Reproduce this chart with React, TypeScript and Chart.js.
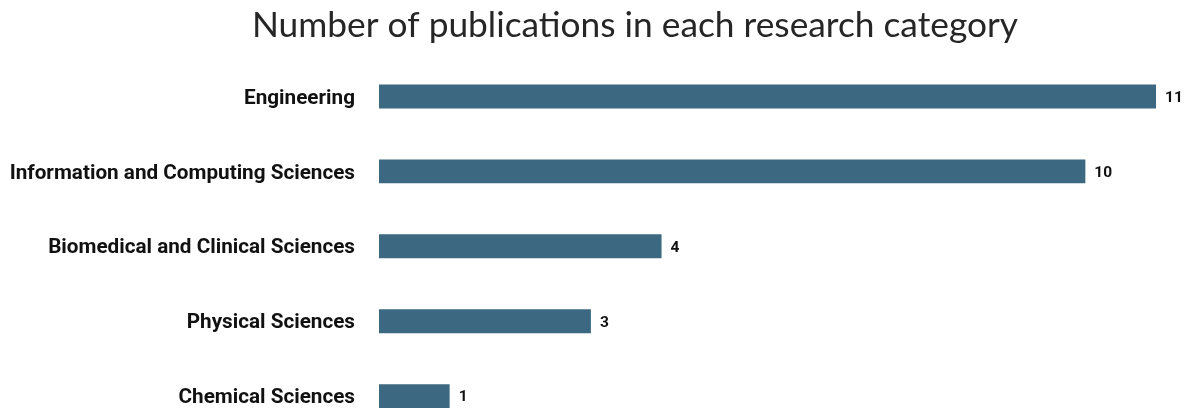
import React, { useEffect, useRef } from "react";
import { Chart, registerables } from "chart.js";

Chart.register(...registerables);

const categories = [
  "Engineering",
  "Information and Computing Sciences",
  "Biomedical and Clinical Sciences",
  "Physical Sciences",
  "Chemical Sciences",
];
const publications = [11, 10, 4, 3, 1];
const titleText = "Number of publications in each research category";

const titlePlugin = {
  id: "customTitle",
  afterDraw(chart: any) {
    const ctx = chart.ctx;
    ctx.save();
    ctx.font = "35.3px Lato";
    ctx.fillStyle = "#262626";
    ctx.textAlign = "center";
    ctx.textBaseline = "alphabetic";
    ctx.fillText(titleText, 635, 37);
    ctx.restore();
  },
};

const valueLabels = {
  id: "valueLabels",
  afterDatasetsDraw(chart: any) {
    const ctx = chart.ctx;
    const meta = chart.getDatasetMeta(0);
    ctx.save();
    ctx.font = "bold 15.5px Roboto";
    ctx.fillStyle = "#111";
    ctx.textAlign = "left";
    ctx.textBaseline = "middle";
    meta.data.forEach((bar: any, i: number) => {
      ctx.fillText(String(publications[i]), bar.x + 9, bar.y + 1.5);
    });
    ctx.restore();
  },
};

export default function App() {
  const ref = useRef<HTMLCanvasElement>(null);
  useEffect(() => {
    if (!ref.current) return;
    const chart = new Chart(ref.current, {
      type: "bar",
      data: {
        labels: categories,
        datasets: [
          {
            data: publications,
            backgroundColor: "#3c6882",
            barPercentage: 0.32,
            categoryPercentage: 1,
          },
        ],
      },
      options: {
        indexAxis: "y",
        animation: false,
        responsive: true,
        maintainAspectRatio: false,
        layout: { padding: { top: 59, right: 36, bottom: 0, left: 0 } },
        plugins: { legend: { display: false }, tooltip: { enabled: false }, title: { display: false } },
        scales: {
          x: { min: 0, max: 11, display: false },
          y: {
            afterFit: (scale: any) => {
              scale.width = 379;
            },
            grid: { display: false, drawTicks: false },
            border: { display: false },
            ticks: {
              padding: 24,
              labelOffset: 2,
              color: "#111",
              font: { family: "Roboto", weight: "bold", size: 20.7 },
            },
          },
        },
      },
      plugins: [titlePlugin, valueLabels],
    });
    return () => chart.destroy();
  }, []);
  return (
    <div style={{ position: "fixed", left: 0, top: 0, width: 1192, height: 409, overflow: "hidden", background: "#fff" }}>
      <div style={{ position: "relative", width: 1192, height: 470 }}>
        <canvas ref={ref} />
      </div>
    </div>
  );
}
